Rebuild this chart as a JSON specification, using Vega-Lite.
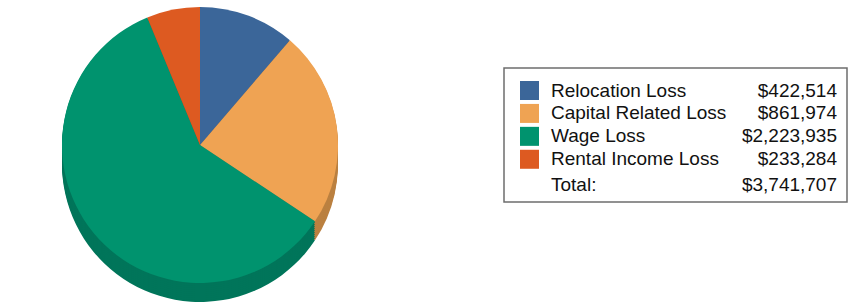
{
  "$schema": "https://vega.github.io/schema/vega-lite/v6.json",
  "padding": 0,
  "background": "white",
  "spacing": 103,
  "config": {"view": {"stroke": null}, "font": "Liberation Sans"},
  "datasets": {
    "losses": [
      {"cat": "Relocation Loss", "value": 422514, "idx": 1},
      {"cat": "Capital Related Loss", "value": 861974, "idx": 2},
      {"cat": "Wage Loss", "value": 2223935, "idx": 3},
      {"cat": "Rental Income Loss", "value": 233284, "idx": 4}
    ]
  },
  "hconcat": [
    {
      "width": 400,
      "height": 290,
      "data": {"name": "losses"},
      "layer": [
        {"mark": {"type": "arc", "radius": 138, "yOffset": 19}, "encoding": {"theta": {"field": "value", "type": "quantitative", "stack": true}, "order": {"field": "idx"}, "color": {"field": "cat", "type": "nominal", "legend": null, "scale": {"domain": ["Relocation Loss", "Capital Related Loss", "Wage Loss", "Rental Income Loss"], "range": ["#2b4c73", "#bb8040", "#00755a", "#a8441a"]}}}},
        {"mark": {"type": "arc", "radius": 138, "yOffset": 17}, "encoding": {"theta": {"field": "value", "type": "quantitative", "stack": true}, "order": {"field": "idx"}, "color": {"field": "cat", "type": "nominal", "legend": null, "scale": {"domain": ["Relocation Loss", "Capital Related Loss", "Wage Loss", "Rental Income Loss"], "range": ["#2b4c73", "#bb8040", "#00755a", "#a8441a"]}}}},
        {"mark": {"type": "arc", "radius": 138, "yOffset": 15}, "encoding": {"theta": {"field": "value", "type": "quantitative", "stack": true}, "order": {"field": "idx"}, "color": {"field": "cat", "type": "nominal", "legend": null, "scale": {"domain": ["Relocation Loss", "Capital Related Loss", "Wage Loss", "Rental Income Loss"], "range": ["#2b4c73", "#bb8040", "#00755a", "#a8441a"]}}}},
        {"mark": {"type": "arc", "radius": 138, "yOffset": 13}, "encoding": {"theta": {"field": "value", "type": "quantitative", "stack": true}, "order": {"field": "idx"}, "color": {"field": "cat", "type": "nominal", "legend": null, "scale": {"domain": ["Relocation Loss", "Capital Related Loss", "Wage Loss", "Rental Income Loss"], "range": ["#2b4c73", "#bb8040", "#00755a", "#a8441a"]}}}},
        {"mark": {"type": "arc", "radius": 138, "yOffset": 11}, "encoding": {"theta": {"field": "value", "type": "quantitative", "stack": true}, "order": {"field": "idx"}, "color": {"field": "cat", "type": "nominal", "legend": null, "scale": {"domain": ["Relocation Loss", "Capital Related Loss", "Wage Loss", "Rental Income Loss"], "range": ["#2b4c73", "#bb8040", "#00755a", "#a8441a"]}}}},
        {"mark": {"type": "arc", "radius": 138, "yOffset": 9}, "encoding": {"theta": {"field": "value", "type": "quantitative", "stack": true}, "order": {"field": "idx"}, "color": {"field": "cat", "type": "nominal", "legend": null, "scale": {"domain": ["Relocation Loss", "Capital Related Loss", "Wage Loss", "Rental Income Loss"], "range": ["#2b4c73", "#bb8040", "#00755a", "#a8441a"]}}}},
        {"mark": {"type": "arc", "radius": 138, "yOffset": 7}, "encoding": {"theta": {"field": "value", "type": "quantitative", "stack": true}, "order": {"field": "idx"}, "color": {"field": "cat", "type": "nominal", "legend": null, "scale": {"domain": ["Relocation Loss", "Capital Related Loss", "Wage Loss", "Rental Income Loss"], "range": ["#2b4c73", "#bb8040", "#00755a", "#a8441a"]}}}},
        {"mark": {"type": "arc", "radius": 138, "yOffset": 5}, "encoding": {"theta": {"field": "value", "type": "quantitative", "stack": true}, "order": {"field": "idx"}, "color": {"field": "cat", "type": "nominal", "legend": null, "scale": {"domain": ["Relocation Loss", "Capital Related Loss", "Wage Loss", "Rental Income Loss"], "range": ["#2b4c73", "#bb8040", "#00755a", "#a8441a"]}}}},
        {"mark": {"type": "arc", "radius": 138, "yOffset": 3}, "encoding": {"theta": {"field": "value", "type": "quantitative", "stack": true}, "order": {"field": "idx"}, "color": {"field": "cat", "type": "nominal", "legend": null, "scale": {"domain": ["Relocation Loss", "Capital Related Loss", "Wage Loss", "Rental Income Loss"], "range": ["#2b4c73", "#bb8040", "#00755a", "#a8441a"]}}}},
        {"mark": {"type": "arc", "radius": 138, "yOffset": 1}, "encoding": {"theta": {"field": "value", "type": "quantitative", "stack": true}, "order": {"field": "idx"}, "color": {"field": "cat", "type": "nominal", "legend": null, "scale": {"domain": ["Relocation Loss", "Capital Related Loss", "Wage Loss", "Rental Income Loss"], "range": ["#2b4c73", "#bb8040", "#00755a", "#a8441a"]}}}},
        {"mark": {"type": "arc", "radius": 138}, "encoding": {"theta": {"field": "value", "type": "quantitative", "stack": true}, "order": {"field": "idx"}, "color": {"field": "cat", "type": "nominal", "legend": null, "scale": {"domain": ["Relocation Loss", "Capital Related Loss", "Wage Loss", "Rental Income Loss"], "range": ["#3b6699", "#efa353", "#00936e", "#dd5a21"]}}}}
      ],
      "resolve": {"scale": {"color": "independent"}}
    },
    {
      "spacing": 0,
      "vconcat": [
        {
          "width": 343,
          "height": 67,
          "data": {"values": []},
          "mark": "text",
          "encoding": {}
        },
        {
          "width": 343,
          "height": 134,
          "view": {"stroke": "#6d6d6d", "strokeWidth": 1.5},
          "data": {"name": "losses"},
          "layer": [
            {
              "mark": {"type": "square", "size": 361, "opacity": 1},
              "encoding": {
                "x": {"value": 25.5},
                "y": {"field": "cat", "type": "nominal", "axis": null, "scale": {"type": "point", "domain": ["Relocation Loss", "Capital Related Loss", "Wage Loss", "Rental Income Loss", "Total:"], "range": [22.5, 114.2], "padding": 0}},
                "color": {"field": "cat", "type": "nominal", "legend": null, "scale": {"domain": ["Relocation Loss", "Capital Related Loss", "Wage Loss", "Rental Income Loss"], "range": ["#3b6699", "#efa353", "#00936e", "#dd5a21"]}}
              }
            },
            {
              "mark": {"type": "text", "align": "left", "baseline": "middle", "fontSize": 19, "color": "#111"},
              "encoding": {
                "x": {"value": 47},
                "y": {"field": "cat", "type": "nominal"},
                "text": {"field": "cat"}
              }
            },
            {
              "mark": {"type": "text", "align": "right", "baseline": "middle", "fontSize": 19, "color": "#111"},
              "encoding": {
                "x": {"value": 333},
                "y": {"field": "cat", "type": "nominal"},
                "text": {"field": "value", "type": "quantitative", "format": "$,.0f"}
              }
            },
            {
              "transform": [{"aggregate": [{"op": "sum", "field": "value", "as": "total"}]}],
              "mark": {"type": "text", "align": "left", "baseline": "middle", "fontSize": 19, "color": "#111", "dy": 3},
              "encoding": {
                "x": {"value": 47},
                "y": {"datum": "Total:", "type": "nominal"},
                "text": {"value": "Total:"}
              }
            },
            {
              "transform": [{"aggregate": [{"op": "sum", "field": "value", "as": "total"}]}],
              "mark": {"type": "text", "align": "right", "baseline": "middle", "fontSize": 19, "color": "#111", "dy": 3},
              "encoding": {
                "x": {"value": 333},
                "y": {"datum": "Total:", "type": "nominal"},
                "text": {"field": "total", "type": "quantitative", "format": "$,.0f"}
              }
            }
          ]
        }
      ]
    }
  ]
}
